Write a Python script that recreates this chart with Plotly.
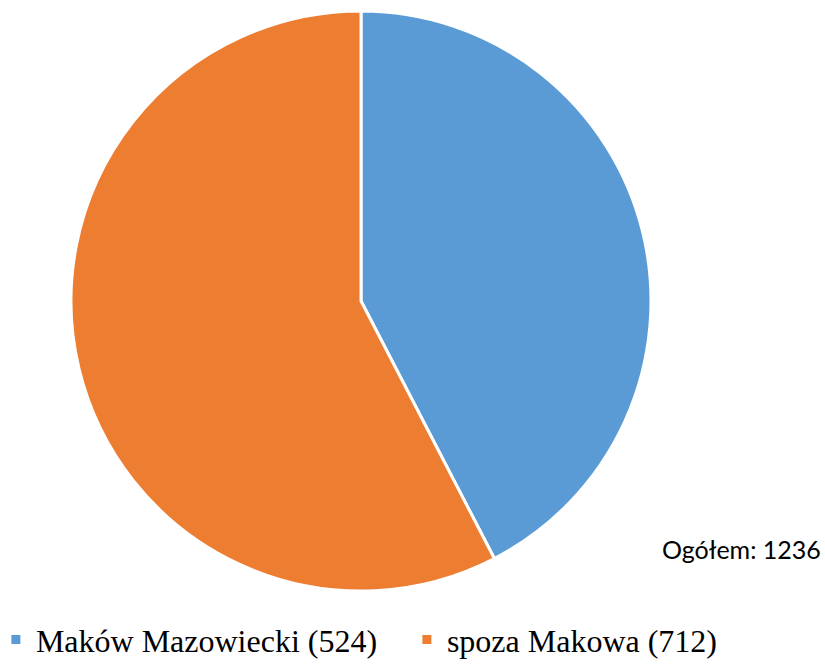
import plotly.graph_objects as go

labels = ['Maków Mazowiecki (524)', 'spoza Makowa (712)']
values = [524, 712]
colors = ['#5B9BD5', '#ED7D31']
total_text = 'Ogółem: 1236'

W, H = 825, 664
cx, cy, r = 361, 301, 290

fig = go.Figure()
fig.add_trace(go.Pie(
    labels=labels,
    values=values,
    sort=False,
    direction='clockwise',
    rotation=0,
    textinfo='none',
    hoverinfo='label+value+percent',
    marker=dict(colors=colors, line=dict(color='white', width=3)),
    domain=dict(x=[(cx - r) / W, (cx + r) / W], y=[1 - (cy + r) / H, 1 - (cy - r) / H]),
))

fig.add_annotation(
    text=total_text, x=0.997, y=1 - 549 / H, xref='paper', yref='paper',
    xanchor='right', yanchor='middle', showarrow=False,
    font=dict(family='Lato, Liberation Sans, sans-serif', size=25, color='black'),
)

fig.update_layout(
    width=W, height=H,
    margin=dict(l=0, r=0, t=0, b=0, autoexpand=False),
    paper_bgcolor='white',
    showlegend=True,
    legend=dict(
        orientation='h', x=-0.005, xanchor='left', y=-0.005, yanchor='bottom',
        bgcolor='rgba(0,0,0,0)',
        font=dict(family='Liberation Serif, Times New Roman, serif', size=32, color='black'),
        itemwidth=30, entrywidth=366, traceorder='normal',
    ),
)

# the page body has a default 8px margin; drop it so the chart sits at 0,0
fig.write_html('out.html', config={'displayModeBar': False},
               post_script="document.body.style.margin='0';")
